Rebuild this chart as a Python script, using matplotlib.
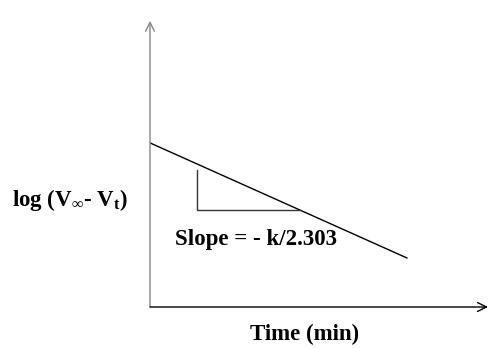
import matplotlib
matplotlib.use("Agg")
import matplotlib.pyplot as plt

plt.rcParams['font.family'] = ['Liberation Serif', 'DejaVu Serif']
plt.rcParams['mathtext.fontset'] = 'custom'
plt.rcParams['mathtext.rm'] = 'Liberation Serif:bold'
plt.rcParams['mathtext.it'] = 'Liberation Serif:bold'
plt.rcParams['mathtext.bf'] = 'Liberation Serif:bold'

# straight line of log(Vinf - Vt) against time (arbitrary units)
time_pts = [0.0, 7.6]
logv_pts = [5.62, 1.68]

# slope triangle
tri_x = [1.39, 1.39, 4.44]
tri_y = [4.69, 3.32, 3.32]

ylabel = r'log (V$_{\infty}$- V$_{\mathrm{t}}$)'
xlabel = 'Time (min)'
slope_txt = 'Slope = - k/2.303'

fig = plt.figure(figsize=(4.9, 3.48), dpi=100)
ax = fig.add_axes([150/490, 41/348, 338/490, 292/348])
ax.set_xlim(0, 10)
ax.set_ylim(0, 10)
ax.axis('off')

# axes with arrow heads
ax.annotate('', xy=(0, 9.8), xytext=(0, 0),
            arrowprops=dict(arrowstyle='->', color='#888888', lw=1.0,
                            mutation_scale=16, shrinkA=0, shrinkB=0),
            annotation_clip=False)
ax.annotate('', xy=(10, 0), xytext=(0, 0),
            arrowprops=dict(arrowstyle='->', color='black', lw=1.0,
                            mutation_scale=16, shrinkA=0, shrinkB=0),
            annotation_clip=False)

ax.plot(time_pts, logv_pts, color='black', lw=1.0)
ax.plot(tri_x, tri_y, color='#333333', lw=1.0)

fig.text(12/490, 1 - 206/348, ylabel, fontsize=16.5, fontweight='bold',
         ha='left', va='baseline')
fig.text(305/490, 1 - 340/348, xlabel, fontsize=16.5, fontweight='bold',
         ha='center', va='baseline')
fig.text(175/490, 1 - 245/348, slope_txt, fontsize=16.5, fontweight='bold',
         ha='left', va='baseline')

fig.savefig('out.png', dpi=100)
